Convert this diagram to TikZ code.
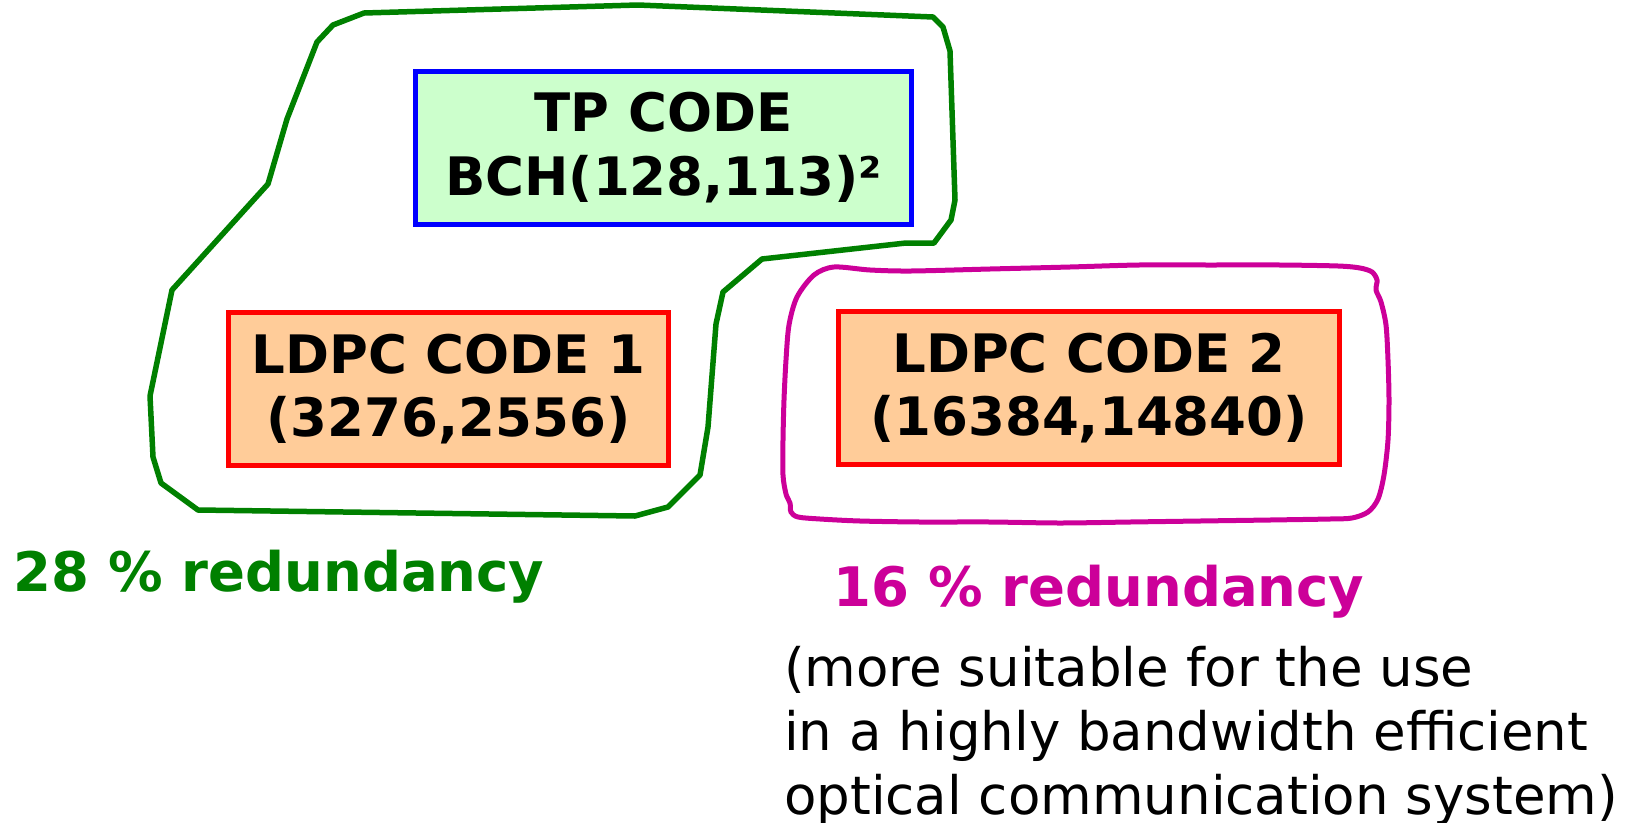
\documentclass[tikz,border=0pt]{standalone}
\usepackage{fontspec}
\setmainfont{DejaVu Sans}
\usetikzlibrary{positioning}

\definecolor{tpfill}{HTML}{CCFFCC}
\definecolor{ldpcfill}{HTML}{FFCC99}
\definecolor{groupgreen}{HTML}{008000}
\definecolor{groupmagenta}{HTML}{CC0099}

\begin{document}
\begin{tikzpicture}[x=1pt, y=-1pt,
  codebox/.style={rectangle, line width=5pt, minimum height=153pt, inner xsep=21pt, align=center, font=\bfseries\fontsize{53}{63.5}\selectfont},
  note/.style={inner sep=0pt, font=\fontsize{53}{64}\selectfont}]
\useasboundingbox (0,0) rectangle (1633,822);

\node (tp) [codebox, draw=blue, fill=tpfill, minimum width=496pt] at (663.5,147.5) {TP CODE\\BCH(128,113)²};
\node (ldpcone) [codebox, draw=red, fill=ldpcfill, minimum width=440pt] at (448.5,389) {LDPC CODE 1\\(3276,2556)};
\node (ldpctwo) [codebox, draw=red, fill=ldpcfill, minimum width=501pt] at (1089,388) {LDPC CODE 2\\(16384,14840)};

% hand drawn groups
\draw[groupgreen, line width=5.5pt, line join=round]
  (364,13) -- (638,5) -- (933,17) -- (943,27) -- (950,51) -- (955,200) -- (951,220)
  -- (934,243) -- (906,243) -- (762,259) -- (723,292) -- (716,324) -- (708,427)
  -- (700,475) -- (668,507) -- (635,516) -- (198,510) -- (161,483) -- (153,457)
  -- (150,396) -- (172,290) -- (268,184) -- (287,119) -- (317,42) -- (333,25) -- cycle;
\draw[groupmagenta, line width=5pt] plot[smooth cycle, tension=0.5] coordinates {
  (814,275) (834,267) (870,270) (911,271) (990,269) (1070,267) (1139,265) (1210,265)
  (1280,265) (1338,266) (1360,268) (1372,272) (1377,280) (1376,290) (1381,302)
  (1386,325) (1388,360) (1389,400) (1388,440) (1384,475) (1378,499) (1368,512)
  (1352,518) (1330,519) (1270,520) (1200,521) (1130,522) (1060,523) (990,522)
  (920,522) (860,521) (820,519) (798,517) (791,512) (790,503) (786,494) (783,475)
  (783,440) (784,400) (786,360) (789,325) (797,297)};

\node (greennote) [note, anchor=base west, text=groupgreen, font=\bfseries\fontsize{54.5}{64}\selectfont] at (13,591) {28 \% redundancy};
\node (magentanote) [note, anchor=base west, text=groupmagenta, font=\bfseries\fontsize{54.5}{64}\selectfont] at (833,606) {16 \% redundancy};
\node (usage) [note, anchor=north west, align=left] at (784,646) {(more suitable for the use\\in a highly bandwidth efficient\\optical communication system)};

\end{tikzpicture}
\end{document}
